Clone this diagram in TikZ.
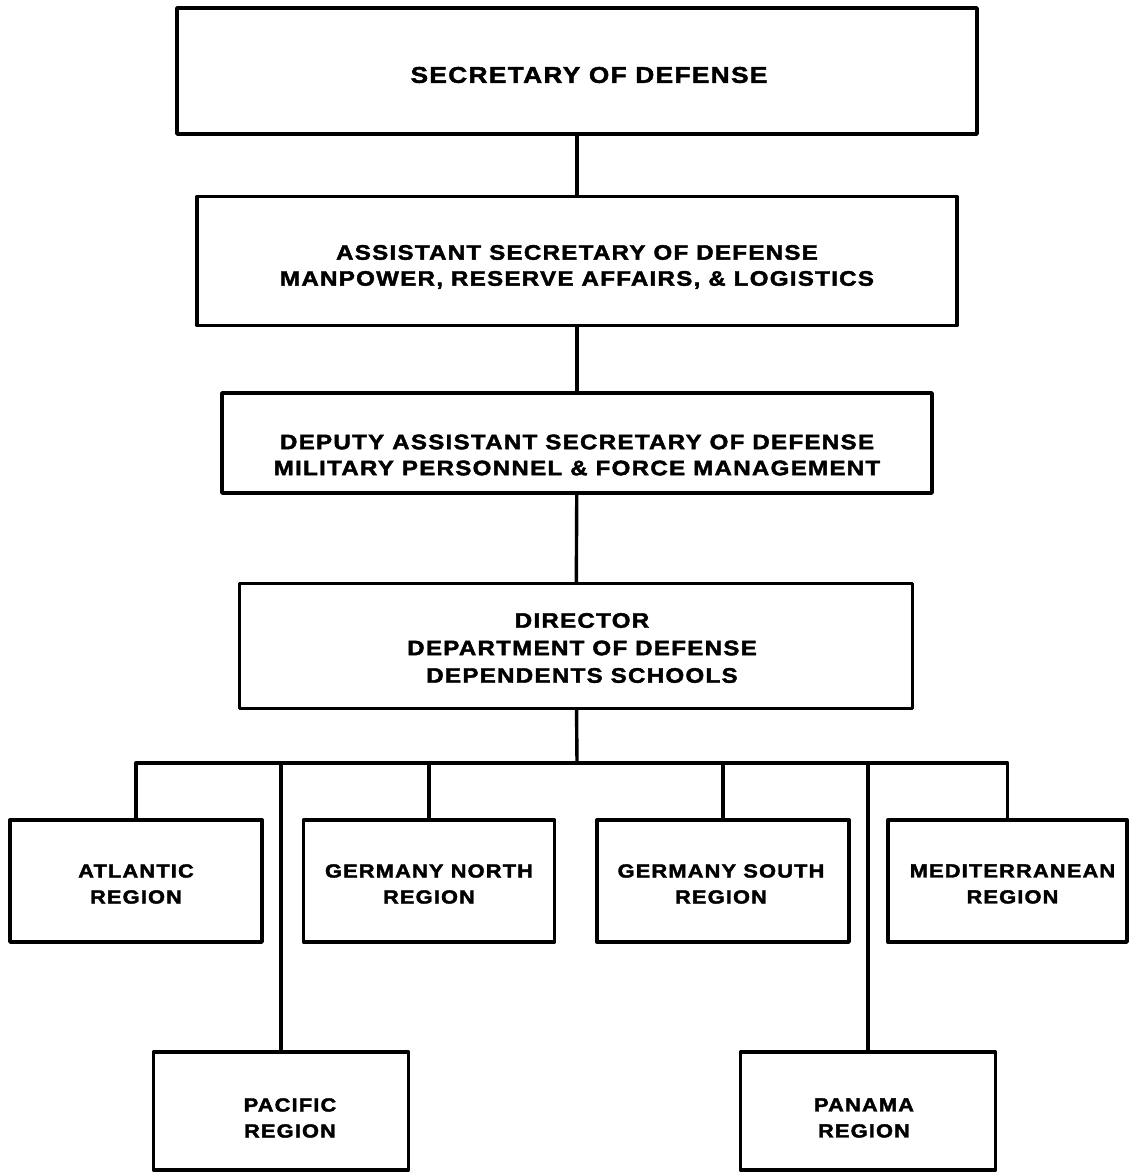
\documentclass[tikz,border=0pt]{standalone}
\usepackage{fontspec}
\newfontfamily\orgfont{Liberation Sans Bold}[FakeStretch=1.15,LetterSpace=6,FakeBold=2]
\begin{document}
\begin{tikzpicture}[x=1pt,y=-1pt,
  orgbox/.style={draw,line width=3.4pt,line join=round,inner sep=0pt},
  regbox/.style={orgbox,minimum width=252pt,minimum height=122pt},
  txt/.style={inner sep=0pt,align=center,font=\orgfont\fontsize{21}{26}\selectfont},
  regtxt/.style={txt,font=\orgfont\fontsize{19}{26}\selectfont},
  link/.style={line width=3.4pt,line join=round}]
\useasboundingbox (0,0) rectangle (1129,1174);
% boxes
\node[orgbox,minimum width=800pt,minimum height=126pt] (sec) at (577,71) {};
\node[orgbox,minimum width=760pt,minimum height=129pt] (asd) at (577,261) {};
\node[orgbox,minimum width=710pt,minimum height=100pt] (dasd) at (577,443) {};
\node[orgbox,minimum width=673pt,minimum height=125pt] (dir) at (576,646) {};
\node[regbox] (atl) at (136,881) {};
\node[regbox,minimum width=251pt] (gn) at (429,881) {};
\node[regbox] (gs) at (723,881) {};
\node[regbox,minimum width=239pt] (med) at (1007.5,881) {};
\node[regbox,minimum width=255pt,minimum height=118pt] (pac) at (281,1111) {};
\node[regbox,minimum width=255pt,minimum height=118pt] (pan) at (868,1111) {};
% texts
\node[txt,font=\orgfont\fontsize{22.8}{26}\selectfont] (sec-t) at ([xshift=12pt,yshift=-4pt]sec.center) {SECRETARY OF DEFENSE};
\node[txt] (asd-t) at ([yshift=-6pt]asd.center) {ASSISTANT SECRETARY OF DEFENSE\\MANPOWER, RESERVE AFFAIRS, \& LOGISTICS};
\node[txt] (dasd-t) at ([yshift=-12pt]dasd.center) {DEPUTY ASSISTANT SECRETARY OF DEFENSE\\MILITARY PERSONNEL \& FORCE MANAGEMENT};
\node[txt,font=\orgfont\fontsize{21}{27.5}\selectfont] (dir-t) at ([xshift=6pt,yshift=-2pt]dir.center) {DIRECTOR\\DEPARTMENT OF DEFENSE\\DEPENDENTS SCHOOLS};
\node[regtxt] (atl-t) at ([yshift=-3pt]atl.center) {ATLANTIC\\REGION};
\node[regtxt] (gn-t) at ([yshift=-3pt]gn.center) {GERMANY NORTH\\REGION};
\node[regtxt] (gs-t) at ([xshift=-2pt,yshift=-3pt]gs.center) {GERMANY SOUTH\\REGION};
\node[regtxt] (med-t) at ([xshift=5pt,yshift=-3pt]med.center) {MEDITERRANEAN\\REGION};
\node[regtxt] (pac-t) at ([xshift=9pt,yshift=-7pt]pac.center) {PACIFIC\\REGION};
\node[regtxt] (pan-t) at ([xshift=-4pt,yshift=-7pt]pan.center) {PANAMA\\REGION};
% connectors
\coordinate (bus) at (577,763);
\draw[link] (sec) -- (asd);
\draw[link] (asd) -- (dasd);
\draw[link] (dasd) -- (dir);
\draw[link] (dir) -- (bus);
\draw[link] (atl.north) |- (bus) -| (med.north);
\draw[link] (gn.north) -- (gn.north |- bus);
\draw[link] (gs.north) -- (gs.north |- bus);
\draw[link] (pac.north) -- (pac.north |- bus);
\draw[link] (pan.north) -- (pan.north |- bus);
\end{tikzpicture}
\end{document}
